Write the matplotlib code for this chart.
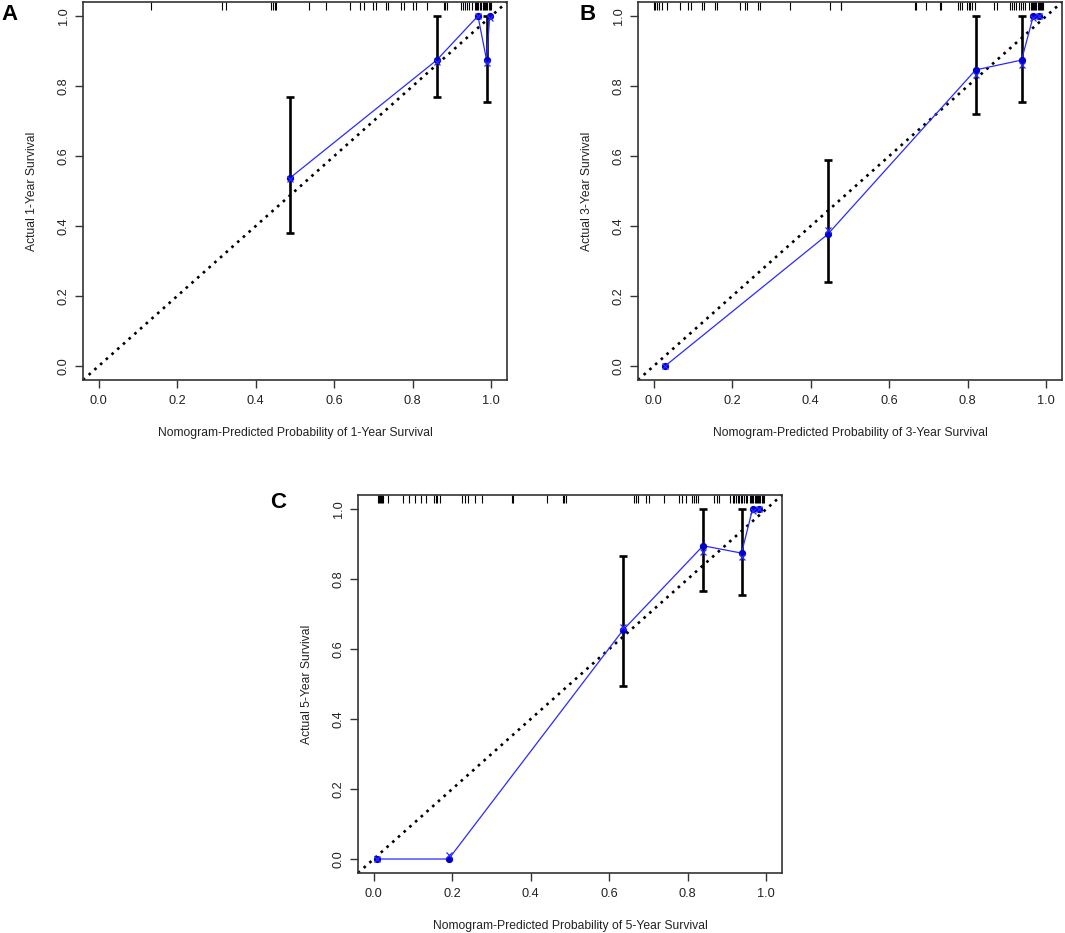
import numpy as np
import matplotlib
matplotlib.use('Agg')
import matplotlib.pyplot as plt
from matplotlib.transforms import blended_transform_factory

plt.rcParams['font.family'] = ['Liberation Sans', 'DejaVu Sans']

# Painel A - 1 ano
a_pred = [0.488, 0.861, 0.966, 0.988, 0.996]
a_obs = [0.538, 0.874, 1.0, 0.874, 1.0]
a_corr = [0.535, 0.868, 1.0, 0.866, 0.993]
a_lo = [0.379, 0.770, 1.0, 0.754, 1.0]
a_hi = [0.770, 1.0, 1.0, 1.0, 1.0]
a_rug = [0.132, 0.315, 0.323, 0.440, 0.443, 0.448, 0.452, 0.536, 0.578, 0.640,
         0.665, 0.676, 0.699, 0.707, 0.731, 0.737, 0.771, 0.777, 0.801, 0.808,
         0.835, 0.879, 0.883, 0.886, 0.924, 0.929, 0.934, 0.938, 0.943, 0.950,
         0.958, 0.961, 0.964, 0.967, 0.971, 0.975, 0.978, 0.981, 0.984, 0.987,
         0.990, 0.993, 0.996, 0.999]

# Painel B - 3 anos
b_pred = [0.029, 0.443, 0.820, 0.937, 0.967, 0.981]
b_obs = [0.0, 0.376, 0.846, 0.874, 1.0, 1.0]
b_corr = [0.0, 0.389, 0.831, 0.860, 0.993, 1.0]
b_lo = [0.0, 0.241, 0.719, 0.754, 1.0, 1.0]
b_hi = [0.0, 0.589, 1.0, 1.0, 1.0, 1.0]
b_rug = [0.0, 0.003, 0.009, 0.014, 0.020, 0.033, 0.067, 0.087, 0.094, 0.122,
         0.129, 0.156, 0.160, 0.221, 0.232, 0.237, 0.266, 0.270, 0.347, 0.449,
         0.476, 0.478, 0.665, 0.669, 0.693, 0.729, 0.733, 0.775, 0.781, 0.786,
         0.798, 0.802, 0.806, 0.811, 0.819, 0.868, 0.875, 0.907, 0.913, 0.919,
         0.923, 0.930, 0.936, 0.940, 0.947, 0.957, 0.960, 0.963, 0.966, 0.969,
         0.972, 0.975, 0.978, 0.981, 0.984, 0.987, 0.990, 0.992]

# Painel C - 5 anos
c_pred = [0.009, 0.191, 0.635, 0.839, 0.937, 0.965, 0.981]
c_obs = [0.0, 0.0, 0.654, 0.895, 0.874, 1.0, 1.0]
c_corr = [0.0, 0.011, 0.662, 0.876, 0.862, 0.993, 1.0]
c_lo = [0.0, 0.0, 0.493, 0.767, 0.753, 1.0, 1.0]
c_hi = [0.0, 0.0, 0.865, 1.0, 1.0, 1.0, 1.0]
c_rug = [0.010, 0.013, 0.016, 0.018, 0.020, 0.023, 0.036, 0.074, 0.091, 0.105,
         0.120, 0.133, 0.154, 0.158, 0.162, 0.170, 0.226, 0.232, 0.239, 0.258,
         0.275, 0.351, 0.355, 0.441, 0.481, 0.485, 0.489, 0.663, 0.667, 0.672,
         0.693, 0.701, 0.740, 0.778, 0.786, 0.795, 0.812, 0.816, 0.820, 0.826,
         0.867, 0.874, 0.880, 0.908, 0.914, 0.918, 0.922, 0.927, 0.931, 0.935,
         0.939, 0.944, 0.948, 0.952, 0.958, 0.961, 0.964, 0.967, 0.970, 0.973,
         0.976, 0.979, 0.982, 0.985, 0.988, 0.991, 0.994]

W, H = 1065, 933
fig = plt.figure(figsize=(W / 100, H / 100), dpi=100)


def painel(left, top, pred, obs, corr, lo, hi, rug, ano, letra, lx, ly):
    ax = fig.add_axes([left / W, 1 - (top + 378) / H, 424 / W, 378 / H])
    ax.set_xlim(-0.04, 1.04)
    ax.set_ylim(-0.04, 1.04)

    # linha ideal
    ax.plot([-0.04, 1.04], [-0.04, 1.04], color='black', lw=1.9,
            linestyle=(0, (1, 1.9)), zorder=1)

    # rug no topo
    trans = blended_transform_factory(ax.transData, ax.transAxes)
    ax.vlines(rug, 0.978, 1.0, transform=trans, color='black', lw=0.8, zorder=2)

    # barras de erro
    pred = np.array(pred)
    lo = np.array(lo)
    hi = np.array(hi)
    m = hi > lo
    ax.errorbar(pred[m], (lo[m] + hi[m]) / 2, yerr=(hi[m] - lo[m]) / 2, fmt='none',
                ecolor='black', elinewidth=1.9, capsize=2.6, capthick=1.9, zorder=3)

    ax.plot(pred, obs, color='#2a2aff', lw=0.9, zorder=4)
    ax.plot(pred, obs, 'o', color='#0000cc', ms=4.2, zorder=5)
    ax.plot(pred, corr, 'x', color='#2a2aff', ms=5, mew=0.9, zorder=5)

    ticks = np.arange(0, 1.01, 0.2)
    ax.set_xticks(ticks)
    ax.set_yticks(ticks)
    ax.set_xticklabels(['%.1f' % t for t in ticks])
    ax.set_yticklabels(['%.1f' % t for t in ticks], rotation=90, va='center')
    ax.tick_params(direction='out', length=5.5, width=1, colors='#333333',
                   labelsize=9.2, labelcolor='#222222')
    ax.tick_params(axis='x', pad=5)
    ax.tick_params(axis='y', pad=4)
    for s in ax.spines.values():
        s.set_color('#333333')
        s.set_linewidth(1.2)

    ax.set_xlabel('Nomogram-Predicted Probability of %d-Year Survival' % ano,
                  fontsize=8.7, color='#222222', va='center')
    ax.set_ylabel('Actual %d-Year Survival' % ano, fontsize=8.7,
                  color='#222222', va='center')
    ax.xaxis.set_label_coords(0.5, -53 / 378)
    ax.yaxis.set_label_coords(-51 / 424, 0.5)

    fig.text(lx / W, 1 - ly / H, letra, fontsize=16, fontweight='bold',
             ha='center', va='center')
    return ax


painel(83, 2, a_pred, a_obs, a_corr, a_lo, a_hi, a_rug, 1, 'A', 10, 14)
painel(638, 2, b_pred, b_obs, b_corr, b_lo, b_hi, b_rug, 3, 'B', 588, 14)
painel(358, 495, c_pred, c_obs, c_corr, c_lo, c_hi, c_rug, 5, 'C', 278, 503)

fig.savefig('out.png', dpi=100)
